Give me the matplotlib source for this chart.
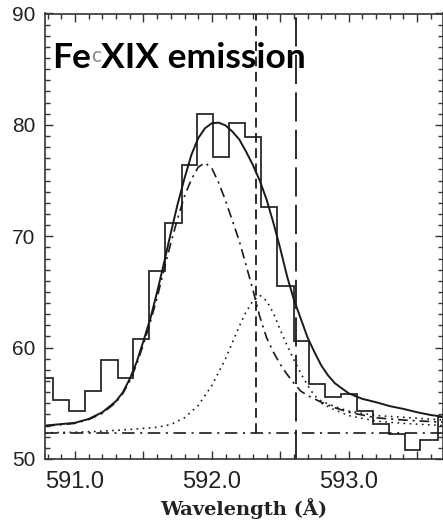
import matplotlib
matplotlib.use("Agg")
import matplotlib.pyplot as plt
from matplotlib.ticker import FixedLocator, MultipleLocator, FuncFormatter

plt.rcParams['lines.scale_dashes'] = False

# ---------------- data ----------------
# histogram (observed spectrum): bin edges (Angstrom) and counts
hist_edges = [590.720, 590.837, 590.958, 591.073, 591.190, 591.312, 591.422,
              591.544, 591.658, 591.781, 591.890, 592.007, 592.127, 592.244,
              592.358, 592.476, 592.597, 592.707, 592.829, 592.944, 593.061,
              593.178, 593.292, 593.414, 593.524, 593.650, 593.767]
hist_values = [57.3, 55.3, 54.35, 56.1, 58.9, 57.3, 60.8, 66.9, 71.2, 76.4,
               81.0, 77.1, 80.2, 78.9, 72.6, 65.5, 60.6, 56.7, 55.6, 55.8,
               54.3, 53.15, 52.2, 50.8, 51.7, 53.8]

# total fit (solid)
fit_wl = [590.78, 591.00, 591.10, 591.20, 591.30, 591.35, 591.40, 591.45,
          591.50, 591.55, 591.60, 591.65, 591.70, 591.75, 591.80, 591.85,
          591.90, 591.95, 592.00, 592.05, 592.10, 592.15, 592.20, 592.25,
          592.30, 592.35, 592.40, 592.45, 592.50, 592.55, 592.60, 592.65,
          592.70, 592.75, 592.80, 592.85, 592.90, 593.00, 593.10, 593.20,
          593.30, 593.40, 593.50, 593.60, 593.69]
fit_total = [53.0, 53.25, 53.6, 54.2, 55.2, 56.0, 57.2, 58.7,
             60.6, 62.6, 65.0, 67.6, 70.3, 72.9, 75.2, 77.3,
             78.8, 79.7, 80.15, 80.2, 79.95, 79.4, 78.7, 77.6,
             76.4, 75.0, 73.3, 71.2, 68.9, 66.4, 64.3, 62.6,
             60.9, 59.6, 58.4, 57.5, 56.8, 55.9, 55.4, 55.1,
             54.75, 54.5, 54.2, 53.95, 53.8]

# first component (dash-dot)
c1_wl = [590.78, 591.00, 591.10, 591.20, 591.30, 591.35, 591.40, 591.45,
         591.50, 591.55, 591.60, 591.65, 591.70, 591.75, 591.80, 591.85,
         591.90, 591.95, 592.00, 592.05, 592.10, 592.15, 592.20, 592.25,
         592.30, 592.35, 592.40, 592.45, 592.50, 592.55, 592.60, 592.65,
         592.70, 592.75, 592.80, 592.90, 593.00, 593.20, 593.40, 593.69]
c1_val = [52.95, 53.2, 53.55, 54.1, 55.1, 55.9, 57.0, 58.5,
          60.3, 62.3, 64.5, 67.0, 69.4, 71.6, 73.6, 75.1,
          76.2, 76.6, 76.1, 74.8, 73.2, 71.4, 69.6, 67.4,
          65.2, 62.8, 60.9, 59.6, 58.5, 57.6, 56.8, 56.1,
          55.7, 55.4, 55.1, 54.6, 54.2, 53.7, 53.5, 53.3]

# second component (dotted)
c2_wl = [590.78, 591.00, 591.20, 591.40, 591.50, 591.60, 591.70, 591.80,
         591.90, 592.00, 592.10, 592.20, 592.25, 592.30, 592.35, 592.40,
         592.45, 592.50, 592.55, 592.60, 592.65, 592.70, 592.75, 592.80,
         592.90, 593.00, 593.10, 593.20, 593.40, 593.69]
c2_val = [52.35, 52.4, 52.5, 52.65, 52.75, 52.85, 53.1, 53.7,
          54.8, 56.6, 59.0, 61.9, 63.2, 64.2, 64.7, 64.2,
          63.1, 61.6, 60.2, 58.9, 57.7, 56.6, 55.7, 55.2,
          54.7, 54.3, 54.1, 53.9, 53.75, 53.5]

# extra dotted tail
c3_wl = [592.80, 592.90, 593.00, 593.20, 593.40, 593.69]
c3_val = [55.0, 54.4, 53.9, 53.4, 53.2, 53.0]

background = 52.3          # dash-dot horizontal level
line_a = 592.32            # short-dashed vertical
line_b = 592.617           # long-dashed vertical

xticks_major = [591.0, 591.5, 592.0, 592.5, 593.0, 593.5]
yticks_major = [50, 60, 70, 80, 90]

# ---------------- figure ----------------
W, H = 443, 521
fig = plt.figure(figsize=(W / 100, H / 100), dpi=100)
ax = fig.add_axes([45 / W, 1 - 459 / H, 398 / W, (459 - 13.5) / H])
ax.set_xlim(590.78, 593.69)
ax.set_ylim(50, 90)

ink = '#1a1a1a'
ax.stairs(hist_values, hist_edges, color='#2a2a2a', lw=1.3)
ax.plot(fit_wl, fit_total, color=ink, lw=1.4)
ax.plot(c1_wl, c1_val, color=ink, lw=1.2, linestyle=(0, (7, 3.5, 1.5, 3.5)))
ax.plot(c2_wl, c2_val, color=ink, lw=1.2, linestyle=(0, (1.2, 3.2)))
ax.plot(c3_wl, c3_val, color=ink, lw=1.1, linestyle=(0, (1.2, 3.2)))
ax.axhline(background, color=ink, lw=1.2, linestyle=(0, (9, 4, 1.5, 4)))
ax.vlines(line_a, background, 90, color=ink, lw=1.3, linestyle=(0, (7, 4)))
ax.axvline(line_b, color=ink, lw=1.3, linestyle=(0, (21, 6)))

for s in ax.spines.values():
    s.set_linewidth(1.2)
    s.set_color('#333333')

ax.xaxis.set_major_locator(FixedLocator(xticks_major))
ax.xaxis.set_minor_locator(MultipleLocator(0.1))
ax.xaxis.set_major_formatter(FuncFormatter(
    lambda v, p: f"{v:.1f}" if abs(v - round(v)) < 1e-6 else ""))
ax.yaxis.set_major_locator(FixedLocator(yticks_major))
ax.yaxis.set_minor_locator(MultipleLocator(1))
ax.tick_params(which='both', direction='in', top=True, right=True,
               color='#333333', width=1.0)
ax.tick_params(which='major', length=6)
ax.tick_params(which='minor', length=3.5)
ax.tick_params(axis='x', which='major', labelsize=17, pad=9, labelcolor='#222222')
ax.tick_params(axis='y', which='major', labelsize=15, pad=7, labelcolor='#222222')
for lab in ax.get_xticklabels() + ax.get_yticklabels():
    lab.set_family('Liberation Sans')

ax.set_xlabel('Wavelength (Å)', family='DejaVu Serif', fontweight='bold',
              fontsize=14, color='#222222', labelpad=3)

# title text
ax.text(590.832, 85.1, 'Fe', family='Lato', fontweight='bold', fontsize=25.5,
        color='black', ha='left', va='baseline')
ax.text(591.19, 85.1, 'XIX emission', family='Lato', fontweight='bold',
        fontsize=25.5, color='black', ha='left', va='baseline')
ax.text(591.152, 85.65, 'c', family='Lato', fontsize=15, color='#8a8a8a',
        ha='center', va='baseline')

fig.savefig('out.png', dpi=100)
